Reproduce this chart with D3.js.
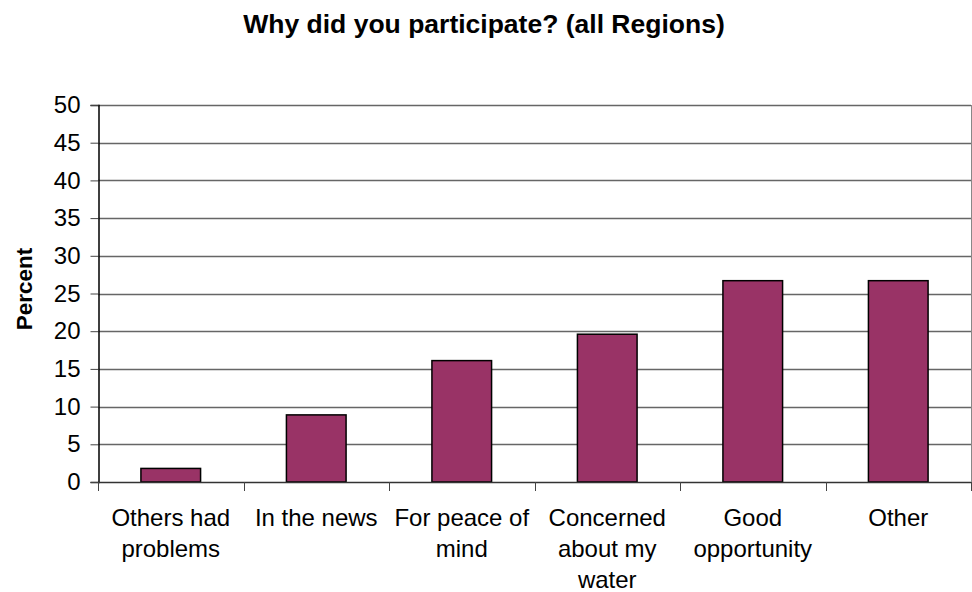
<!DOCTYPE html>
<html>
<head>
<meta charset="utf-8">
<script src="https://cdn.jsdelivr.net/npm/d3@7"></script>
<style>
body { margin: 0; background: #fff; }
svg { display: block; font-family: Arial, "Liberation Sans", sans-serif; }
</style>
</head>
<body>
<svg width="972" height="592"></svg>
<script>
var categories = [
    ["Others had", "problems"],
    ["In the news"],
    ["For peace of", "mind"],
    ["Concerned", "about my", "water"],
    ["Good", "opportunity"],
    ["Other"]
];
var values = [1.8, 8.9, 16.1, 19.6, 26.7, 26.7];
var yTicks = [0, 5, 10, 15, 20, 25, 30, 35, 40, 45, 50];

var svg = d3.select("svg");
var plotLeft = 98, plotRight = 971, plotTop = 105, plotBottom = 482;

var x = d3.scaleBand()
    .domain(d3.range(categories.length))
    .range([plotLeft, plotRight])
    .paddingInner(0.59)
    .paddingOuter(0.295);

var y = d3.scaleLinear().domain([0, 50]).range([plotBottom, plotTop]);

// gridlines
svg.append("g")
    .selectAll("line")
    .data(yTicks.slice(1))
    .enter()
    .append("line")
    .attr("x1", plotLeft).attr("x2", plotRight)
    .attr("y1", d => Math.round(y(d)) + 0.5)
    .attr("y2", d => Math.round(y(d)) + 0.5)
    .attr("stroke", "#666")
    .attr("stroke-width", 1.3);

// right border of plot area
svg.append("line")
    .attr("x1", plotRight + 0.5).attr("x2", plotRight + 0.5)
    .attr("y1", plotTop).attr("y2", plotBottom)
    .attr("stroke", "#888");

// bars
svg.append("g")
    .selectAll("rect")
    .data(values)
    .enter()
    .append("rect")
    .attr("x", (d, i) => x(i))
    .attr("width", x.bandwidth())
    .attr("y", d => y(d))
    .attr("height", d => y(0) - y(d))
    .attr("fill", "#993366")
    .attr("stroke", "#000")
    .attr("stroke-width", 1.5);

// y axis
var yAxis = d3.axisLeft(y).tickValues(yTicks).tickSize(8).tickPadding(10);
var gy = svg.append("g")
    .attr("transform", "translate(" + (plotLeft + 0.5) + ",0)")
    .call(yAxis);
gy.select(".domain").attr("stroke", "#000").attr("stroke-width", 1.5);
gy.selectAll(".tick line").attr("stroke", "#444");
gy.selectAll("text").attr("font-size", 24).attr("fill", "#000")
    .attr("font-family", "Arial, 'Liberation Sans', sans-serif");

// x axis
var step = (plotRight - plotLeft) / categories.length;
var xTickPos = d3.range(categories.length + 1).map(i => plotLeft + i * step);
var gx = svg.append("g");
gx.append("line")
    .attr("x1", plotLeft).attr("x2", plotRight)
    .attr("y1", plotBottom + 0.5).attr("y2", plotBottom + 0.5)
    .attr("stroke", "#333").attr("stroke-width", 1.5);
gx.selectAll(".xt")
    .data(xTickPos)
    .enter()
    .append("line")
    .attr("class", "xt")
    .attr("x1", d => Math.round(d) + 0.5).attr("x2", d => Math.round(d) + 0.5)
    .attr("y1", plotBottom).attr("y2", plotBottom + 9)
    .attr("stroke", "#444");

var labels = gx.selectAll(".xl")
    .data(categories)
    .enter()
    .append("text")
    .attr("class", "xl")
    .attr("text-anchor", "middle")
    .attr("font-size", 24)
    .attr("fill", "#000")
    .attr("transform", (d, i) => "translate(" + (x(i) + x.bandwidth() / 2) + ",0)");
labels.selectAll("tspan")
    .data(d => d)
    .enter()
    .append("tspan")
    .attr("x", 0)
    .attr("y", (d, i) => 526 + i * 31)
    .text(d => d);

// y title
svg.append("text")
    .attr("transform", "translate(32,289) rotate(-90)")
    .attr("text-anchor", "middle")
    .attr("font-size", 22.5)
    .attr("font-weight", "bold")
    .text("Percent");

// title
svg.append("text")
    .attr("x", 484)
    .attr("y", 33)
    .attr("text-anchor", "middle")
    .attr("font-size", 26.5)
    .attr("font-weight", "bold")
    .text("Why did you participate? (all Regions)");
</script>
</body>
</html>
